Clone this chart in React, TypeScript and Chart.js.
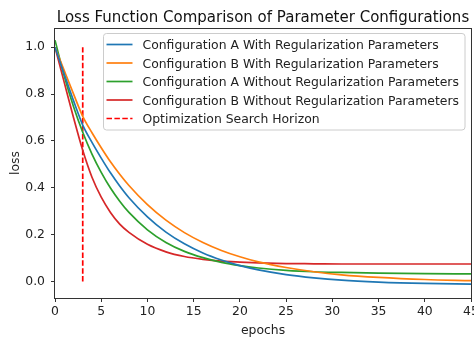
import React, { useEffect, useRef } from "react";
import { Chart, registerables } from "chart.js";

Chart.register(...registerables);

const chartTitle = "Loss Function Comparison of Parameter Configurations";
const xAxisLabel = "epochs";
const yAxisLabel = "loss";

const epochs = [0, 1, 2, 3, 4, 5, 6, 7, 8, 10, 12, 14, 16, 18, 20, 22, 25, 28, 31, 35, 40, 45];

const seriesLabels = [
  "Configuration A With Regularization Parameters",
  "Configuration B With Regularization Parameters",
  "Configuration A Without Regularization Parameters",
  "Configuration B Without Regularization Parameters",
];
const horizonLabel = "Optimization Search Horizon";

const configAWithReg = [1.0, 0.885, 0.772, 0.668, 0.594, 0.527, 0.464, 0.408, 0.358, 0.276, 0.211, 0.161, 0.122, 0.092, 0.068, 0.05, 0.03, 0.016, 0.006, -0.002, -0.008, -0.011];
const configBWithReg = [1.0, 0.9, 0.801, 0.705, 0.635, 0.571, 0.511, 0.458, 0.41, 0.328, 0.262, 0.209, 0.167, 0.133, 0.106, 0.084, 0.06, 0.042, 0.029, 0.018, 0.009, 0.004];
const configAWithoutReg = [1.03, 0.877, 0.747, 0.637, 0.544, 0.466, 0.399, 0.343, 0.295, 0.221, 0.167, 0.129, 0.102, 0.082, 0.068, 0.058, 0.048, 0.042, 0.039, 0.036, 0.034, 0.033];
const configBWithoutReg = [1.0, 0.85, 0.7, 0.56, 0.445, 0.36, 0.295, 0.245, 0.21, 0.159, 0.127, 0.107, 0.095, 0.087, 0.083, 0.08, 0.077, 0.076, 0.075, 0.075, 0.075, 0.075];

const horizonEpoch = 3;
const horizonLoss = [0, 1];

const xTicks = [0, 5, 10, 15, 20, 25, 30, 35, 40, 45];
const yTicks = [0, 0.2, 0.4, 0.6, 0.8, 1.0];

const seriesColors = ["#1f77b4", "#ff7f0e", "#2ca02c", "#d62728"];
const horizonColor = "#ff0000";

const FONT = '"DejaVu Sans", sans-serif';

const decorPlugin = {
  id: "decor",
  afterDatasetsDraw(chart: any) {
    const { ctx, chartArea: a } = chart;
    ctx.save();
    // frame (all four spines)
    ctx.strokeStyle = "#333";
    ctx.lineWidth = 1;
    ctx.setLineDash([]);
    ctx.strokeRect(a.left - 0.5, a.top + 0.5, a.right - a.left + 1, a.bottom - a.top);
    // title
    ctx.fillStyle = "#111";
    ctx.font = `15px ${FONT}`;
    ctx.textAlign = "center";
    ctx.textBaseline = "alphabetic";
    ctx.fillText(chartTitle, (a.left + a.right) / 2, 22);
    // legend
    const bx = 103.5, by = 33.5, bw = 361.5, bh = 96.5, r = 3;
    ctx.beginPath();
    ctx.moveTo(bx + r, by);
    ctx.lineTo(bx + bw - r, by);
    ctx.quadraticCurveTo(bx + bw, by, bx + bw, by + r);
    ctx.lineTo(bx + bw, by + bh - r);
    ctx.quadraticCurveTo(bx + bw, by + bh, bx + bw - r, by + bh);
    ctx.lineTo(bx + r, by + bh);
    ctx.quadraticCurveTo(bx, by + bh, bx, by + bh - r);
    ctx.lineTo(bx, by + r);
    ctx.quadraticCurveTo(bx, by, bx + r, by);
    ctx.closePath();
    ctx.fillStyle = "rgba(255,255,255,0.8)";
    ctx.fill();
    ctx.strokeStyle = "#cccccc";
    ctx.stroke();
    ctx.font = `12.4px ${FONT}`;
    ctx.textAlign = "left";
    chart.data.datasets.forEach((ds: any, i: number) => {
      const cy = 44.5 + i * 18.5;
      ctx.beginPath();
      ctx.strokeStyle = ds.borderColor;
      ctx.lineWidth = ds.borderWidth;
      ctx.setLineDash(ds.borderDash || []);
      ctx.moveTo(106.5, cy);
      ctx.lineTo(132.5, cy);
      ctx.stroke();
      ctx.setLineDash([]);
      ctx.fillStyle = "#222";
      ctx.fillText(ds.label, 142.5, cy + 4.5);
    });
    ctx.restore();
  },
};

export default function App() {
  const ref = useRef<HTMLCanvasElement | null>(null);
  useEffect(() => {
    document.body.style.margin = "0";
    const canvas = ref.current;
    if (!canvas) return;
    const series = [configAWithReg, configBWithReg, configAWithoutReg, configBWithoutReg];
    const datasets: any[] = series.map((vals, i) => ({
      label: seriesLabels[i],
      data: epochs.map((e, j) => ({ x: e, y: vals[j] })),
      borderColor: seriesColors[i],
      backgroundColor: seriesColors[i],
      borderWidth: 1.7,
      pointRadius: 0,
      fill: false,
      cubicInterpolationMode: "monotone",
    }));
    datasets.push({
      label: horizonLabel,
      data: horizonLoss.map((v) => ({ x: horizonEpoch, y: v })),
      borderColor: horizonColor,
      backgroundColor: horizonColor,
      borderWidth: 1.7,
      borderDash: [5.5, 2.4],
      pointRadius: 0,
      fill: false,
    });
    const chart = new Chart(canvas, {
      type: "line",
      data: { datasets },
      plugins: [decorPlugin],
      options: {
        animation: false,
        responsive: false,
        events: [],
        layout: { padding: { top: 28, right: 3, left: 0, bottom: 0 } },
        plugins: { legend: { display: false }, title: { display: false }, tooltip: { enabled: false } },
        scales: {
          x: {
            type: "linear",
            min: 0,
            max: 45,
            afterFit: (s: any) => { s.height = 41; s.paddingLeft = 0; s.paddingRight = 0; },
            afterBuildTicks: (s: any) => { s.ticks = xTicks.map((v) => ({ value: v })); },
            ticks: { color: "#222", font: { family: FONT, size: 12.4 }, padding: 2, callback: (v: any) => String(v), maxRotation: 0, autoSkip: false },
            grid: { display: true, drawOnChartArea: false, drawTicks: true, tickLength: 4, tickColor: "#333" },
            border: { display: false },
            title: { display: true, text: xAxisLabel, color: "#222", font: { family: FONT, size: 12.4 }, padding: { top: 0, bottom: 1 } },
          },
          y: {
            type: "linear",
            min: -0.07,
            max: 1.082,
            afterFit: (s: any) => { s.width = 55; s.paddingTop = 0; s.paddingBottom = 0; },
            afterBuildTicks: (s: any) => { s.ticks = yTicks.map((v) => ({ value: v })); },
            ticks: { color: "#222", font: { family: FONT, size: 12.4 }, padding: 6, callback: (v: any) => Number(v).toFixed(1) },
            grid: { display: true, drawOnChartArea: false, drawTicks: true, tickLength: 4, tickColor: "#333" },
            border: { display: false },
            title: { display: true, text: yAxisLabel, color: "#222", font: { family: FONT, size: 12.4 }, padding: { top: 8, bottom: 0 } },
          },
        },
      },
    });
    return () => chart.destroy();
  }, []);
  return <canvas ref={ref} width={474} height={339} style={{ display: "block", width: 474, height: 339 }} />;
}
